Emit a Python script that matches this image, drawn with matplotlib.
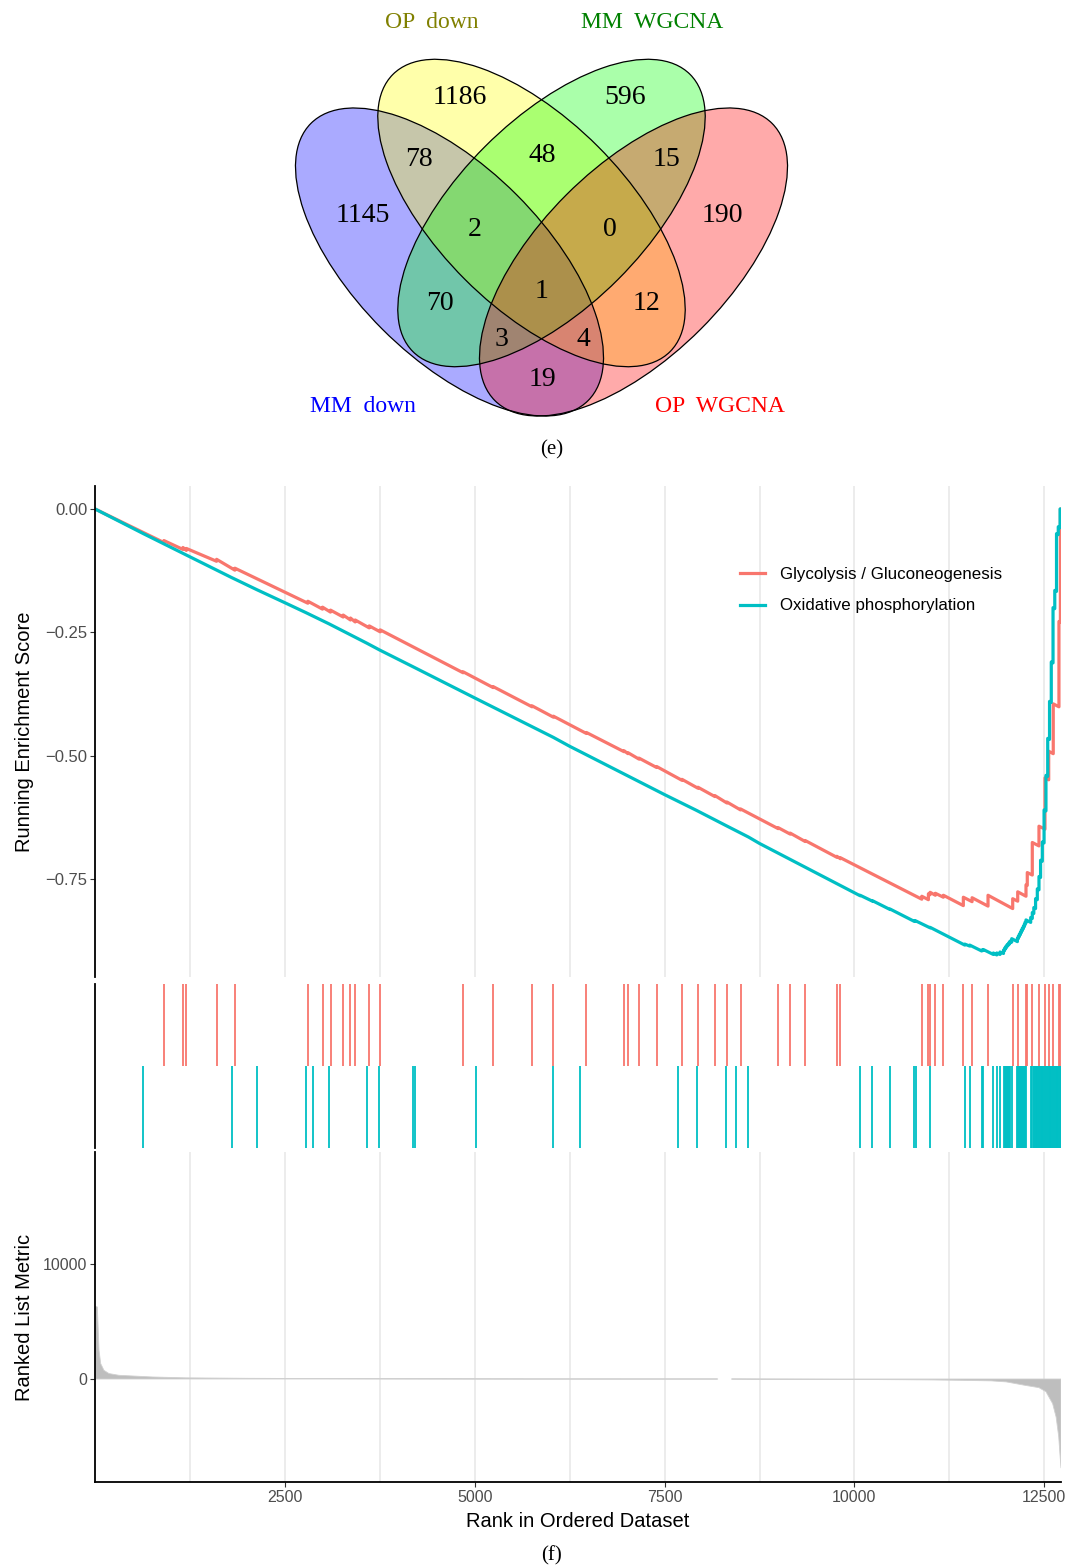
import matplotlib
matplotlib.use('Agg')
import matplotlib.pyplot as plt
from matplotlib.patches import Ellipse

# ---------------- Venn 数据 ----------------
set_names = ['MM  down', 'OP  down', 'MM  WGCNA', 'OP  WGCNA']
set_fill = ['#0000FF', '#FFFF00', '#00FF00', '#FF0000']
set_text_color = ['#0000FF', '#808000', '#008000', '#FF0000']

# 各区域计数 (MM down / OP down / MM WGCNA / OP WGCNA 的交集)
region_counts = [1186, 596, 78, 48, 15, 1145, 2, 0, 190, 1, 70, 12, 3, 4, 19]

# ---------------- GSEA 数据 ----------------
gene_set_names = ['Glycolysis / Gluconeogenesis', 'Oxidative phosphorylation']
gene_set_colors = ['#F8766D', '#00BFC4']
n_genes = 12720

glyco_es_x = [1, 907, 907, 1158, 1158, 1203, 1203, 1601, 1601, 1842, 1842,
              2803, 2803, 2996, 2996, 3101, 3101, 3268, 3268, 3364, 3364,
              3426, 3426, 3611, 3611, 3755, 3755, 4847, 4847, 5242, 5242,
              5755, 5755, 6036, 6036, 6470, 6470, 6966, 6966, 7018, 7018,
              7163, 7163, 7395, 7395, 7729, 7729, 7939, 7939, 8163, 8163,
              8321, 8321, 8500, 8500, 8996, 8996, 9154, 9154, 9351, 9351,
              9768, 9768, 9816, 9816, 10887, 10887, 10974, 10974, 10996, 10996,
              11066, 11066, 11171, 11171, 11434, 11434, 11549, 11549, 11759, 11759,
              12084, 12084, 12150, 12150, 12259, 12259, 12276, 12276, 12342, 12342,
              12430, 12430, 12509, 12509, 12558, 12558, 12618, 12618, 12693, 12693,
              12712, 12712, 12720]
glyco_es_y = [0.000, -0.068, -0.064, -0.082, -0.078, -0.084, -0.080, -0.106, -0.102, -0.124, -0.120,
              -0.191, -0.187, -0.203, -0.199, -0.209, -0.205, -0.219, -0.215, -0.225, -0.221,
              -0.229, -0.225, -0.241, -0.237, -0.249, -0.245, -0.332, -0.330, -0.362, -0.360,
              -0.401, -0.399, -0.422, -0.420, -0.455, -0.453, -0.492, -0.490, -0.496, -0.494,
              -0.507, -0.505, -0.524, -0.522, -0.550, -0.548, -0.566, -0.564, -0.583, -0.581,
              -0.596, -0.594, -0.610, -0.608, -0.648, -0.646, -0.659, -0.657, -0.674, -0.672,
              -0.706, -0.704, -0.709, -0.707, -0.791, -0.785, -0.792, -0.780, -0.782, -0.777,
              -0.783, -0.779, -0.787, -0.783, -0.804, -0.787, -0.796, -0.788, -0.805, -0.783,
              -0.810, -0.790, -0.795, -0.776, -0.785, -0.762, -0.763, -0.737, -0.742, -0.676,
              -0.683, -0.643, -0.649, -0.545, -0.549, -0.491, -0.496, -0.395, -0.401, -0.228,
              -0.230, 0.000, 0.000]

oxphos_es_x = [1, 637, 1799, 2137, 2500, 2776, 3084, 3579, 3750, 4216, 5000,
               6036, 6250, 6391, 7500, 7671, 7921, 8312, 8605, 8750, 10000,
               10075, 10075, 10237, 10237, 10470, 10470, 10789, 10789, 10808, 10808,
               10996, 10996, 11453, 11453, 11518, 11518, 11676, 11676, 11697, 11697,
               11829, 11829, 11874, 11874, 11917, 11917, 11963, 11963, 11978, 11978,
               11992, 11992, 12006, 12006, 12021, 12021, 12035, 12035, 12048, 12048,
               12071, 12071, 12146, 12146, 12158, 12158, 12171, 12171, 12185, 12185,
               12197, 12197, 12210, 12210, 12224, 12224, 12236, 12236, 12246, 12246,
               12259, 12259, 12321, 12321, 12342, 12342, 12362, 12362, 12385, 12385,
               12408, 12408, 12430, 12430, 12451, 12451, 12474, 12474, 12497, 12497,
               12522, 12522, 12545, 12545, 12569, 12569, 12592, 12592, 12615, 12615,
               12638, 12638, 12661, 12661, 12684, 12684, 12708, 12708, 12720]
oxphos_es_y = [0.000, -0.050, -0.139, -0.164, -0.190, -0.210, -0.233, -0.272, -0.286, -0.322, -0.383,
               -0.463, -0.481, -0.492, -0.579, -0.592, -0.611, -0.642, -0.665, -0.678, -0.778,
               -0.784, -0.783, -0.795, -0.794, -0.812, -0.811, -0.836, -0.835, -0.836, -0.835,
               -0.849, -0.848, -0.884, -0.882, -0.886, -0.884, -0.896, -0.894, -0.895, -0.893,
               -0.903, -0.900, -0.904, -0.900, -0.903, -0.898, -0.901, -0.894, -0.895, -0.890,
               -0.891, -0.887, -0.888, -0.884, -0.885, -0.882, -0.883, -0.879, -0.880, -0.876,
               -0.878, -0.871, -0.877, -0.870, -0.871, -0.866, -0.867, -0.862, -0.863, -0.858,
               -0.859, -0.854, -0.855, -0.850, -0.851, -0.846, -0.847, -0.842, -0.843, -0.838,
               -0.839, -0.833, -0.838, -0.828, -0.830, -0.818, -0.820, -0.808, -0.810, -0.790,
               -0.792, -0.770, -0.772, -0.745, -0.747, -0.712, -0.714, -0.675, -0.677, -0.610,
               -0.612, -0.540, -0.542, -0.465, -0.467, -0.390, -0.392, -0.310, -0.312, -0.200,
               -0.202, -0.165, -0.167, -0.050, -0.052, -0.036, -0.038, 0.000, 0.000]

# 基因集命中位置
glyco_hits = [907, 1158, 1203, 1601, 1842, 2803, 2996, 3101, 3268, 3364, 3426, 3611,
              3755, 4847, 5242, 5755, 6036, 6470, 6966, 7018, 7163, 7395, 7729, 7939,
              8163, 8321, 8500, 8996, 9154, 9351, 9768, 9816, 10887, 10974, 10996, 11066,
              11171, 11434, 11549, 11759, 12084, 12150, 12259, 12276, 12342, 12430, 12509,
              12558, 12618, 12693, 12712]
oxphos_hits = [637, 1799, 2137, 2776, 2868, 3084, 3579, 3737, 4184, 4216, 5013, 6036,
               6391, 7671, 7921, 8312, 8443, 8605, 10075, 10237, 10470, 10789, 10808, 10996,
               11453, 11518, 11676, 11697, 11829, 11874, 11917, 11963, 11978, 11992, 12006,
               12021, 12035, 12048, 12071, 12146, 12158, 12171, 12185, 12197, 12210, 12224,
               12236, 12246, 12259, 12321, 12342, 12362, 12371, 12385, 12394, 12408, 12417,
               12430, 12442, 12451, 12466, 12474, 12489, 12497, 12511, 12522, 12534, 12545,
               12556, 12569, 12580, 12592, 12603, 12615, 12627, 12638, 12650, 12661, 12673,
               12684, 12696, 12708, 12718]

# 排序指标
rank_x = [1, 31, 53, 75, 118, 184, 316, 755, 1194, 2000, 3000, 4000, 5000, 5640, 5641,
          8200, 8201, 8380, 8381, 9000, 10000, 10600, 11000, 11352, 11800, 12000, 12248,
          12430, 12522, 12610, 12656, 12690, 12706, 12720]
rank_y = [6300, 6240, 2490, 1330, 750, 470, 320, 175, 100, 60, 35, 20, 8, 3, 1,
          -1, 0, 0, -2, -20, -40, -60, -80, -110, -160, -250, -550,
          -750, -1100, -2130, -3300, -5000, -6500, -7700]


def draw_venn(fig):
    """绘制四集合 Venn 图 (像素坐标)"""
    ax = fig.add_axes([0, 1 - 470 / 1568, 1, 470 / 1568])
    ax.set_xlim(0, 1072)
    ax.set_ylim(470, 0)
    ax.axis('off')

    # 椭圆: 中心, 长轴, 短轴, 角度
    shapes = [((449.5, 262), 392, 190, 45),
              ((531.5, 213), 392, 188, 45),
              ((551.5, 213), 392, 188, -45),
              ((633.5, 262), 392, 190, -45)]
    for (c, w, h, ang), col in zip(shapes, set_fill):
        ax.add_patch(Ellipse(c, w, h, angle=ang, facecolor=col, alpha=1 / 3, edgecolor='none'))
    for c, w, h, ang in shapes:
        ax.add_patch(Ellipse(c, w, h, angle=ang, fill=False, edgecolor='black', lw=0.9))

    region_pos = [(460, 98), (625, 98), (419, 159), (542, 156), (666, 159),
                  (363, 215), (475, 229), (610, 229), (722, 215), (542, 291),
                  (440, 303), (646, 303), (501, 339), (583, 339), (542, 379)]
    for (x, y), n in zip(region_pos, region_counts):
        ax.text(x, y, str(n), ha='center', va='center', fontsize=20,
                family='Liberation Serif', color='black')

    label_pos = [(363, 407), (432, 23), (652, 23), (720, 407)]
    for (x, y), name, col in zip(label_pos, set_names, set_text_color):
        ax.text(x, y, name, ha='center', va='center', fontsize=17,
                family='Liberation Serif', color=col)


def draw_gsea(fig):
    """绘制 GSEA 三联图"""
    left, width = 95 / 1072, 966 / 1072
    grid_x = [1250 * i for i in range(1, 11)]

    # 子图1：running enrichment score
    ax1 = fig.add_axes([left, 1 - 977 / 1568, width, 491 / 1568])
    ax1.plot(glyco_es_x, glyco_es_y, color=gene_set_colors[0], lw=2.3, label=gene_set_names[0])
    ax1.plot(oxphos_es_x, oxphos_es_y, color=gene_set_colors[1], lw=2.3, label=gene_set_names[1])
    ax1.set_xlim(0, n_genes)
    ax1.set_ylim(-0.9487, 0.0466)
    ax1.set_yticks([0, -0.25, -0.5, -0.75])
    ax1.set_yticklabels(['0.00', '\u22120.25', '\u22120.50', '\u22120.75'])
    ax1.set_xticks(grid_x)
    ax1.tick_params(axis='x', length=0, labelbottom=False)
    ax1.tick_params(axis='y', length=3.6, width=0.8, color='#333333', labelsize=12,
                    labelcolor='#4D4D4D', pad=2)
    ax1.grid(axis='x', color='#EBEBEB', lw=1.3)
    ax1.set_axisbelow(True)
    for s in ['top', 'right', 'bottom']:
        ax1.spines[s].set_visible(False)
    ax1.spines['left'].set_linewidth(1.3)
    ax1.set_ylabel('Running Enrichment Score', fontsize=14.5)
    ax1.yaxis.set_label_coords(-0.063, 0.5)
    ax1.legend(loc='upper left', bbox_to_anchor=(0.6677, 0.836), frameon=False,
               fontsize=12.2, handlelength=1.5, handletextpad=0.85, labelspacing=1.0,
               borderpad=0, borderaxespad=0)

    # 子图2：基因命中位置
    ax2 = fig.add_axes([left, 1 - 1148 / 1568, width, 164 / 1568])
    ax2.vlines(glyco_hits, 0.5, 1, color=gene_set_colors[0], lw=1.3)
    ax2.vlines(oxphos_hits, 0, 0.5, color=gene_set_colors[1], lw=1.3)
    ax2.set_xlim(0, n_genes)
    ax2.set_ylim(0, 1)
    ax2.set_xticks([])
    ax2.set_yticks([])
    for s in ['top', 'right', 'bottom']:
        ax2.spines[s].set_visible(False)
    ax2.spines['left'].set_linewidth(1.3)

    # 子图3：ranked list metric
    ax3 = fig.add_axes([left, 1 - 1482 / 1568, width, 330 / 1568])
    mask = [v != 0 for v in rank_y]
    ax3.fill_between(rank_x, 0, rank_y, where=mask, color='#BEBEBE', lw=0.6,
                     edgecolor='#D0D0D0')
    ax3.set_xlim(0, n_genes)
    ax3.set_ylim(-8925, 19670)
    ax3.set_yticks([0, 10000])
    ax3.set_yticklabels(['0', '10000'])
    ax3.set_xticks([2500, 5000, 7500, 10000, 12500])
    ax3.set_xticks([1250, 3750, 6250, 8750, 11250], minor=True)
    ax3.tick_params(axis='both', length=3.6, width=0.8, color='#333333', labelsize=11.5,
                    labelcolor='#4D4D4D', pad=2)
    ax3.tick_params(axis='x', which='minor', length=0)
    ax3.grid(axis='x', which='both', color='#EBEBEB', lw=1.3)
    ax3.set_axisbelow(True)
    for s in ['top', 'right']:
        ax3.spines[s].set_visible(False)
    ax3.spines['left'].set_linewidth(1.3)
    ax3.spines['bottom'].set_linewidth(1.3)
    ax3.set_ylabel('Ranked List Metric', fontsize=14.5)
    ax3.yaxis.set_label_coords(-0.063, 0.5)
    ax3.set_xlabel('Rank in Ordered Dataset', fontsize=14.5)
    ax3.xaxis.set_label_coords(0.5, -0.09)


def main():
    plt.rcParams['font.family'] = ['Liberation Sans', 'DejaVu Sans']
    fig = plt.figure(figsize=(10.72, 15.68), dpi=100)

    draw_venn(fig)
    fig.text(552 / 1072, 1 - 450 / 1568, '(e)', ha='center', va='center',
             family='Liberation Serif', fontsize=15)

    draw_gsea(fig)
    fig.text(552 / 1072, 1 - 1556 / 1568, '(f)', ha='center', va='center',
             family='Liberation Serif', fontsize=15)

    fig.savefig('out.png', dpi=100)
    plt.close(fig)


if __name__ == '__main__':
    main()
